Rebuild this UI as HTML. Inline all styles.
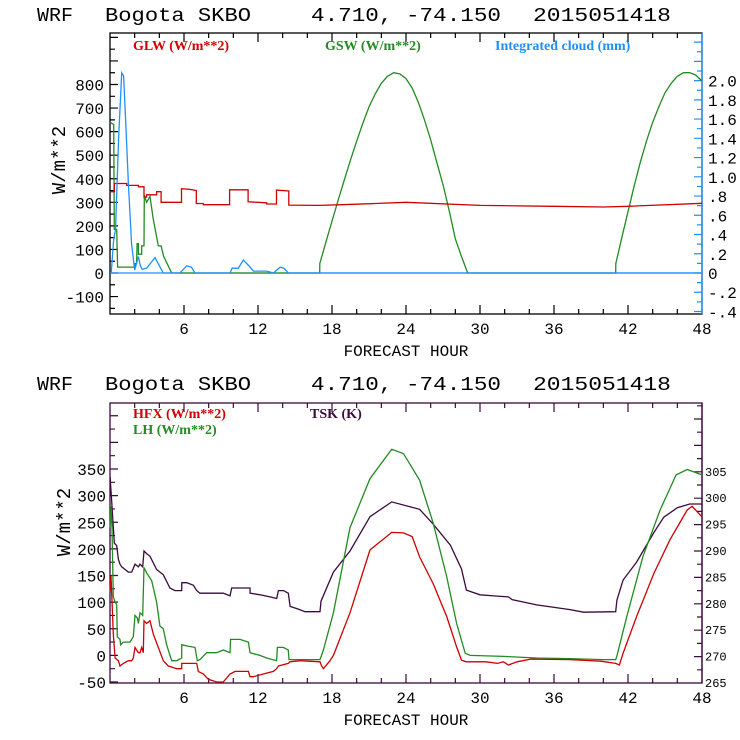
<!DOCTYPE html>
<html><head><meta charset="utf-8"><style>
html,body{margin:0;padding:0;background:#fff;}
svg{display:block;}
.t{font-family:"Liberation Mono",monospace;fill:#000;}
.lg{font-family:"Liberation Serif",serif;font-weight:bold;font-size:14px;}
</style></head><body>
<svg id="chart" width="740" height="740" viewBox="0 0 740 740" xmlns="http://www.w3.org/2000/svg">
<g class="t" font-size="19">
<text x="37" y="21" textLength="36" lengthAdjust="spacingAndGlyphs">WRF</text>
<text x="105" y="21" textLength="146" lengthAdjust="spacingAndGlyphs">Bogota SKBO</text>
<text x="311" y="21" textLength="190" lengthAdjust="spacingAndGlyphs">4.710, -74.150</text>
<text x="533" y="21" textLength="138" lengthAdjust="spacingAndGlyphs">2015051418</text>
</g>
<g class="t" font-size="19">
<text x="37" y="390" textLength="36" lengthAdjust="spacingAndGlyphs">WRF</text>
<text x="105" y="390" textLength="146" lengthAdjust="spacingAndGlyphs">Bogota SKBO</text>
<text x="311" y="390" textLength="190" lengthAdjust="spacingAndGlyphs">4.710, -74.150</text>
<text x="533" y="390" textLength="138" lengthAdjust="spacingAndGlyphs">2015051418</text>
</g>
<g id="top"></g>
<g id="bot"></g>
</svg>
<script>
// ---- data (hours / values) ----
const xTickLabels = ["6","12","18","24","30","36","42","48"];
const topLeftTicks = [-100,0,100,200,300,400,500,600,700,800];
const topRightTicks = [-0.4,-0.2,0,0.2,0.4,0.6,0.8,1.0,1.2,1.4,1.6,1.8,2.0];
const topRightLabels = ["-.4","-.2","0",".2",".4",".6",".8","1.0","1.2","1.4","1.6","1.8","2.0"];
const botLeftTicks = [-50,0,50,100,150,200,250,300,350];
const botRightTicks = [265,270,275,280,285,290,295,300,305];

const glwHours = [0,0.35,0.35,1.35,1.35,2.3,2.3,2.76,2.76,2.97,2.97,3.78,3.78,4.14,4.14,5.8,5.8,6.5,7.0,7.0,7.57,7.57,9.7,9.7,11.2,11.2,12.7,12.7,13.5,13.5,14.5,14.5,17,20,24,30,36,40,42,48];
const glwValues = [345,345,380,380,372,372,366,366,322,322,332,332,345,345,300,300,358,355,350,295,295,290,290,353,353,302,298,293,293,352,348,288,287,292,300,287,283,280,283,296];

const gswHours = [0,0.3,0.35,0.54,0.62,2.0,2.03,2.16,2.2,2.3,2.3,2.57,2.57,2.76,2.78,2.97,3.24,3.5,3.92,4.14,4.35,5.0,17.0,17.01,17.5,18,18.5,19,19.5,20,20.5,21,21.5,22,22.5,23,23.5,24,24.5,25,25.5,26,26.5,27,27.5,28,28.5,29,41,41.01,41.5,42,42.5,43,43.5,44,44.5,45,45.5,46,46.5,47,47.5,48];
const gswValues = [640,630,185,185,25,25,40,40,125,125,80,80,115,115,330,300,325,230,115,115,70,0,0,40,130,220,310,395,480,560,635,705,760,805,835,850,845,825,785,725,650,565,470,375,265,145,70,0,0,40,150,260,370,470,560,640,705,765,805,835,850,850,840,815];

const cloudHours = [0,0.1,0.3,0.45,0.7,0.95,1.1,1.3,1.5,1.75,2.0,2.15,2.3,2.45,2.6,2.97,3.4,3.65,3.9,4.32,5.67,6.22,6.6,6.89,9.73,9.9,10.4,10.81,11.3,11.63,12.7,13.25,13.79,14.1,14.46,48];
const cloudMm = [0,0,0.35,0.45,1.4,2.08,2.05,1.5,0.9,0.3,0.03,0.1,0.17,0.08,0.04,0.05,0.12,0.16,0.1,0,0,0.075,0.06,0,0,0.05,0.05,0.135,0.07,0.02,0.02,0,0.06,0.05,0,0];

const hfxHours = [0.01,0.08,0.27,0.41,0.68,0.81,1.08,1.49,1.76,1.89,2.03,2.16,2.3,2.43,2.57,2.7,2.76,2.97,3.24,3.51,3.92,4.32,4.73,5.41,5.81,5.81,6.22,6.76,7.03,7.16,7.57,7.97,8.65,9.19,9.73,10.14,10.54,11.22,11.35,11.62,12.43,13.24,13.51,13.65,14.46,14.59,15.41,17.03,17.16,17.3,17.84,18.11,19.46,21.08,22.84,23.8,24.5,25.1,26.2,27.3,28.1,28.5,28.9,30.5,31.4,31.9,32.3,33,34.1,37.3,39.8,41,41.3,41.6,42.7,44.1,45.4,46.8,47.2,48];
const hfxValues = [120,150,40,-5,-10,-20,-15,-10,-10,-5,15,10,5,5,15,5,65,60,65,40,15,-10,-20,-25,-25,-15,-15,-15,-15,-30,-35,-45,-50,-50,-35,-30,-30,-30,-40,-40,-35,-30,-25,-20,-15,-12,-10,-12,-20,-25,-10,0,80,198,231,230,223,185,135,73,16,-9,-12,-12,-15,-12,-18,-12,-7,-8,-11,-15,-18,4,73,154,217,273,280,260];

const lhHours = [0.01,0.08,0.16,0.27,0.41,0.54,0.59,0.81,0.86,1.08,1.35,1.62,1.89,2.03,2.22,2.3,2.43,2.65,2.76,2.97,3.38,3.78,4.05,4.32,4.59,5.0,5.41,5.81,5.81,6.35,6.89,7.08,7.3,7.84,8.65,9.19,9.73,9.78,10.54,11.22,11.35,12.16,12.7,13.51,13.57,14.05,14.46,14.51,17.03,17.3,18.11,19.46,21.08,22.84,23.8,25.1,26.2,27.3,28.1,28.8,29.2,31.9,34.6,37.3,40,41,41.1,41.9,43.2,44.6,45.9,46.8,48];
const lhValues = [240,280,240,110,100,95,35,30,20,25,25,25,35,75,70,60,80,75,165,155,140,100,55,50,20,-10,-10,-5,20,17,15,-10,-8,5,5,10,5,30,30,25,5,0,-5,-10,15,15,10,-8,-8,10,80,240,332,387,379,329,249,148,60,4,0,-2,-5,-6,-8,-8,-1,73,185,273,339,349,339];

const tskHours = [0.01,0.12,0.35,0.54,0.67,0.81,0.95,1.49,1.76,2.03,2.3,2.43,2.65,2.76,2.97,3.24,3.78,4.32,4.86,5.27,5.81,5.82,6.22,6.76,7.03,7.3,9.19,9.73,9.87,11.35,11.36,12.16,12.97,13.52,13.65,14.06,14.46,14.6,15.27,15.81,17.03,17.11,18.11,19.46,21.08,22.84,25.1,26.2,27.6,28.5,28.9,30,31.1,32.3,32.6,34.6,37.3,38.4,41,41.1,41.6,42.7,44.1,44.9,46,47,48];
const tskK = [304,300,291.5,291,288.5,287.5,287,286,286,287.5,287,287.5,287,290,289.5,289,286.5,285.5,283,282.5,282.5,284,284,283.5,282.5,282,282,281.5,283,283,282,281.7,281.3,281,282.5,282.5,282,279.5,279,278.5,278.5,280.5,286,290,296.5,299.3,297.9,295.1,291.1,286.6,282.6,281.7,281.5,281.3,280.8,279.8,278.9,278.4,278.5,280.7,284.5,287.9,293.5,296.4,298.2,298.9,298.9];

const NS = "http://www.w3.org/2000/svg";
const X0 = 110, X1 = 702;
const xs = h => X0 + (X1 - X0) * h / 48;

function el(tag, attrs, parent) {
  const e = document.createElementNS(NS, tag);
  for (const k in attrs) e.setAttribute(k, attrs[k]);
  parent.appendChild(e);
  return e;
}
function txt(parent, x, y, s, size, anchor, fill) {
  const t = el("text", {x: x, y: y, "font-size": size, "text-anchor": anchor, fill: fill || "#000", "font-family": "Liberation Mono, monospace"}, parent);
  t.textContent = s;
  return t;
}
function series(parent, hours, vals, yf, color) {
  let d = "";
  for (let i = 0; i < hours.length; i++) d += (i ? "L" : "M") + xs(hours[i]).toFixed(1) + " " + yf(vals[i]).toFixed(1);
  return el("path", {d: d, fill: "none", stroke: color, "stroke-width": 1.3}, parent);
}

function frame(g, top, bot, color, rightColor) {
  const f = el("rect", {x: X0, y: top, width: X1 - X0, height: bot - top, fill: "none", stroke: color, "stroke-width": 1.3}, g);
  
  
  const rl = el("line", {x1: X1, y1: top, x2: X1, y2: bot, stroke: rightColor, "stroke-width": 1.3}, g);
  
  
  let d = "";
  for (let h = 2; h < 48; h += 2) {
    const L = h % 6 === 0 ? 9 : 5;
    const x = xs(h);
    d += `M${x} ${bot}V${bot - L}M${x} ${top}V${top + L}`;
  }
  const xt = el("path", {d: d, stroke: color, "stroke-width": 1.2}, g);
  
  
  for (let i = 0; i < xTickLabels.length; i++) {
    const h = +xTickLabels[i];
    const t = txt(g, xs(h), bot + 20, xTickLabels[i], 16, "middle");
    
    
  }
  const xl = txt(g, 406, bot + 42, "FORECAST HOUR", 16, "middle");
  
  
}

// ---- top panel ----
(function () {
  const g = document.getElementById("top");
  
  
  const top = 33, bot = 314;
  const yL = v => 273 - v * 0.2356;
  const yR = c => 273 - c * 96.2;
  frame(g, top, bot, "#000", "#1e90ff");
  let d = "";
  for (let v = -150; v <= 1000; v += 50) { const y = yL(v); if (y > top && y < bot) d += `M${X0} ${y}h${v % 100 === 0 ? 8 : 5}`; }
  const lt = el("path", {d: d, stroke: "#000", "stroke-width": 1.2}, g);
  
  
  for (const v of topLeftTicks) {
    const t = txt(g, X0 - 6, yL(v) + 6, String(v), 16, "end");
    
    
  }
  d = "";
  for (let k = -4; k <= 24; k++) { const y = yR(k / 10); if (y > top && y < bot) d += `M${X1} ${y}h${k % 2 === 0 ? -8 : -5}`; }
  const rt = el("path", {d: d, stroke: "#1e90ff", "stroke-width": 1.2}, g);
  
  
  for (let i = 0; i < topRightTicks.length; i++) {
    const t = txt(g, 708, yR(topRightTicks[i]) + 6, topRightLabels[i], 16, "start");
    
    
  }
  const yt = txt(g, 0, 0, "W/m**2", 19, "middle");
  yt.setAttribute("transform", "translate(65,160) rotate(-90)");
  
  
  const zl = el("line", {x1: X0, x2: X1, y1: yL(0), y2: yL(0), stroke: "#1e90ff", "stroke-width": 1.3}, g);
  
  
  const s1 = series(g, gswHours, gswValues, yL, "#228b22");
  
  
  const s2 = series(g, glwHours, glwValues, yL, "#d00000");
  
  
  const s3 = series(g, cloudHours, cloudMm, yR, "#1e90ff");
  
  
  const l1 = el("text", {x: 133, y: 50, fill: "#d00000", class: "lg"}, g); l1.textContent = "GLW (W/m**2)";
  
  
  const l2 = el("text", {x: 325, y: 50, fill: "#228b22", class: "lg"}, g); l2.textContent = "GSW (W/m**2)";
  
  
  const l3 = el("text", {x: 495, y: 50, fill: "#1e90ff", class: "lg"}, g); l3.textContent = "Integrated cloud (mm)";
  
  
})();

// ---- bottom panel ----
(function () {
  const g = document.getElementById("bot");
  
  
  const top = 403, bot = 683;
  const yL = v => 682 - (v + 50) * 0.5325;
  const yR = T => 683 - (T - 265) * 5.28;
  const pc = "#3c0a3c";
  frame(g, top, bot, pc, pc);
  let d = "";
  for (let v = -50; v <= 475; v += 25) { const y = yL(v); if (y > top && y < bot) d += `M${X0} ${y}h${v % 50 === 0 ? 8 : 5}`; }
  const lt = el("path", {d: d, stroke: pc, "stroke-width": 1.2}, g);
  
  
  for (const v of botLeftTicks) {
    const t = txt(g, X0 - 4, yL(v) + 6, String(v), 16, "end");
    
    
  }
  d = "";
  for (let T = 265; T <= 317.5; T += 2.5) { const y = yR(T); if (y > top && y < bot) d += `M${X1} ${y}h${T % 5 === 0 ? -8 : -5}`; }
  const rt = el("path", {d: d, stroke: pc, "stroke-width": 1.2}, g);
  
  
  for (const T of botRightTicks) {
    const t = txt(g, 705, yR(T) + 4, String(T), 12, "start");
    
    
  }
  const yt = txt(g, 0, 0, "W/m**2", 19, "middle");
  yt.setAttribute("transform", "translate(70,522) rotate(-90)");
  
  
  const s1 = series(g, tskHours, tskK, yR, pc);
  
  
  const s2 = series(g, lhHours, lhValues, yL, "#228b22");
  
  
  const s3 = series(g, hfxHours, hfxValues, yL, "#d00000");
  
  
  const l1 = el("text", {x: 133, y: 418, fill: "#d00000", class: "lg"}, g); l1.textContent = "HFX (W/m**2)";
  
  
  const l2 = el("text", {x: 133, y: 434, fill: "#228b22", class: "lg"}, g); l2.textContent = "LH  (W/m**2)";
  
  
  const l3 = el("text", {x: 310, y: 418, fill: pc, class: "lg"}, g); l3.textContent = "TSK (K)";
  
  
})();
</script>
</body></html>
